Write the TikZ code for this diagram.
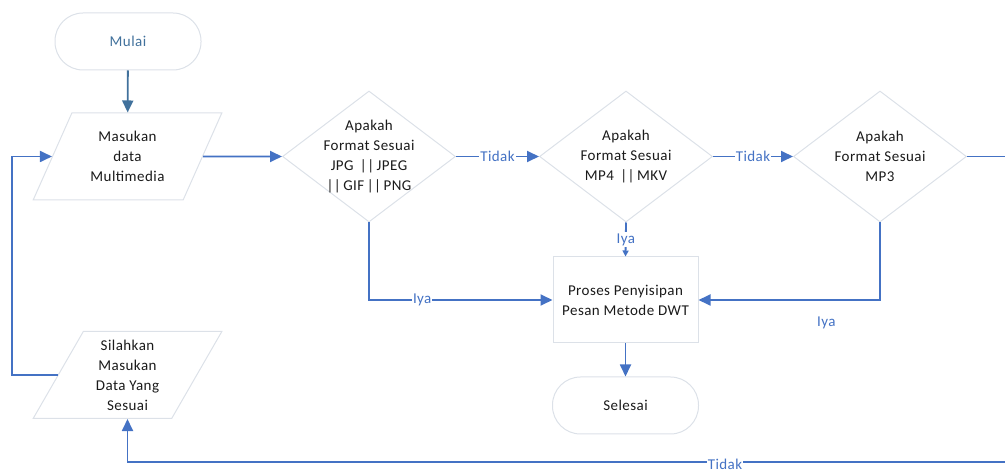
\documentclass[tikz,border=0pt]{standalone}
\usepackage{fontspec}
\setmainfont{Carlito}[LetterSpace=3]
\usetikzlibrary{shapes.geometric,arrows.meta}
\definecolor{lineblue}{HTML}{4472C4}
\definecolor{darkblue}{HTML}{41719C}
\definecolor{shapegrey}{HTML}{DCE1E8}
\definecolor{txt}{HTML}{1A1A1A}
\begin{document}
\begin{tikzpicture}[x=1pt,y=-1pt,font=\fontsize{15}{20}\selectfont,
  term/.style={draw=shapegrey,line width=1pt,rounded corners=28pt,minimum width=146pt,minimum height=57pt,inner sep=0pt,text=txt},
  io/.style={draw=shapegrey,line width=1pt,trapezium,trapezium left angle=63,trapezium right angle=117,trapezium stretches=true,minimum width=189pt,minimum height=87pt,inner sep=0pt,align=center,text=txt},
  dec/.style={draw=shapegrey,line width=1pt,diamond,minimum width=173pt,minimum height=131pt,inner sep=0pt},
  dectext/.style={align=center,text=txt,inner sep=0pt},
  proc/.style={draw=shapegrey,line width=1pt,minimum width=145pt,minimum height=86pt,inner sep=0pt,align=center,text=txt},
  conn/.style={draw=lineblue,line width=1.8pt,-{Triangle[length=12pt,width=11pt]}},
  lbl/.style={fill=white,text=lineblue,inner sep=1pt}]
\useasboundingbox (0,0) rectangle (1005,470);
\node[term] (mulai) at (128,41.5) {\color{darkblue}Mulai};
\node[io] (masuk) at (127.5,156.5) {Masukan\\data\\Multimedia};
\node[io] (sil) at (127.5,375) {Silahkan\\Masukan\\Data Yang\\Sesuai};
\node[dec] (d1) at (369,156.5) {};
\node[dectext] at (d1) {Apakah\\Format Sesuai\\JPG \,||\,JPEG\\||\,GIF\,||\,PNG};
\node[dec] (d2) at (626,156.5) {};
\node[dectext] at (d2) {Apakah\\Format Sesuai\\MP4 \,||\,MKV};
\node[dec] (d3) at (880,156.5) {};
\node[dectext] at (d3) {Apakah\\Format Sesuai\\MP3};
\node[proc] (proc) at (625.5,300) {Proses Penyisipan\\Pesan Metode DWT};
\node[term] (sel) at (625.5,405.5) {Selesai};
\coordinate (lft) at (12,300);
\coordinate (rgt) at (1020,462);
\draw[conn,draw=darkblue,-{Triangle[length=12pt,width=11pt]}] (mulai) -- (masuk);
\draw[conn] (masuk.east) -- (d1.west);
\draw[conn] (d1.east) -- node[lbl]{Tidak} (d2.west);
\draw[conn] (d2.east) -- node[lbl]{Tidak} (d3.west);
\draw[conn] (d1.south) |- node[lbl,pos=0.645]{Iya} (proc.west);
\draw[conn] (d3.south) |- node[pos=0.648,yshift=-23pt,text=lineblue,inner sep=1pt]{Iya} (proc.east);
\draw[conn,-{Triangle[length=6pt,width=6pt]}] (d2.south) -- node[lbl]{Iya} (proc.north);
\draw[conn] (proc) -- (sel);
\draw[conn] (sil.west) -| (lft) |- (masuk.west);
\draw[conn] (d3.east) -| (rgt) -| (sil.south);
\node[lbl] at (725,464) {Tidak};
\end{tikzpicture}
\end{document}
